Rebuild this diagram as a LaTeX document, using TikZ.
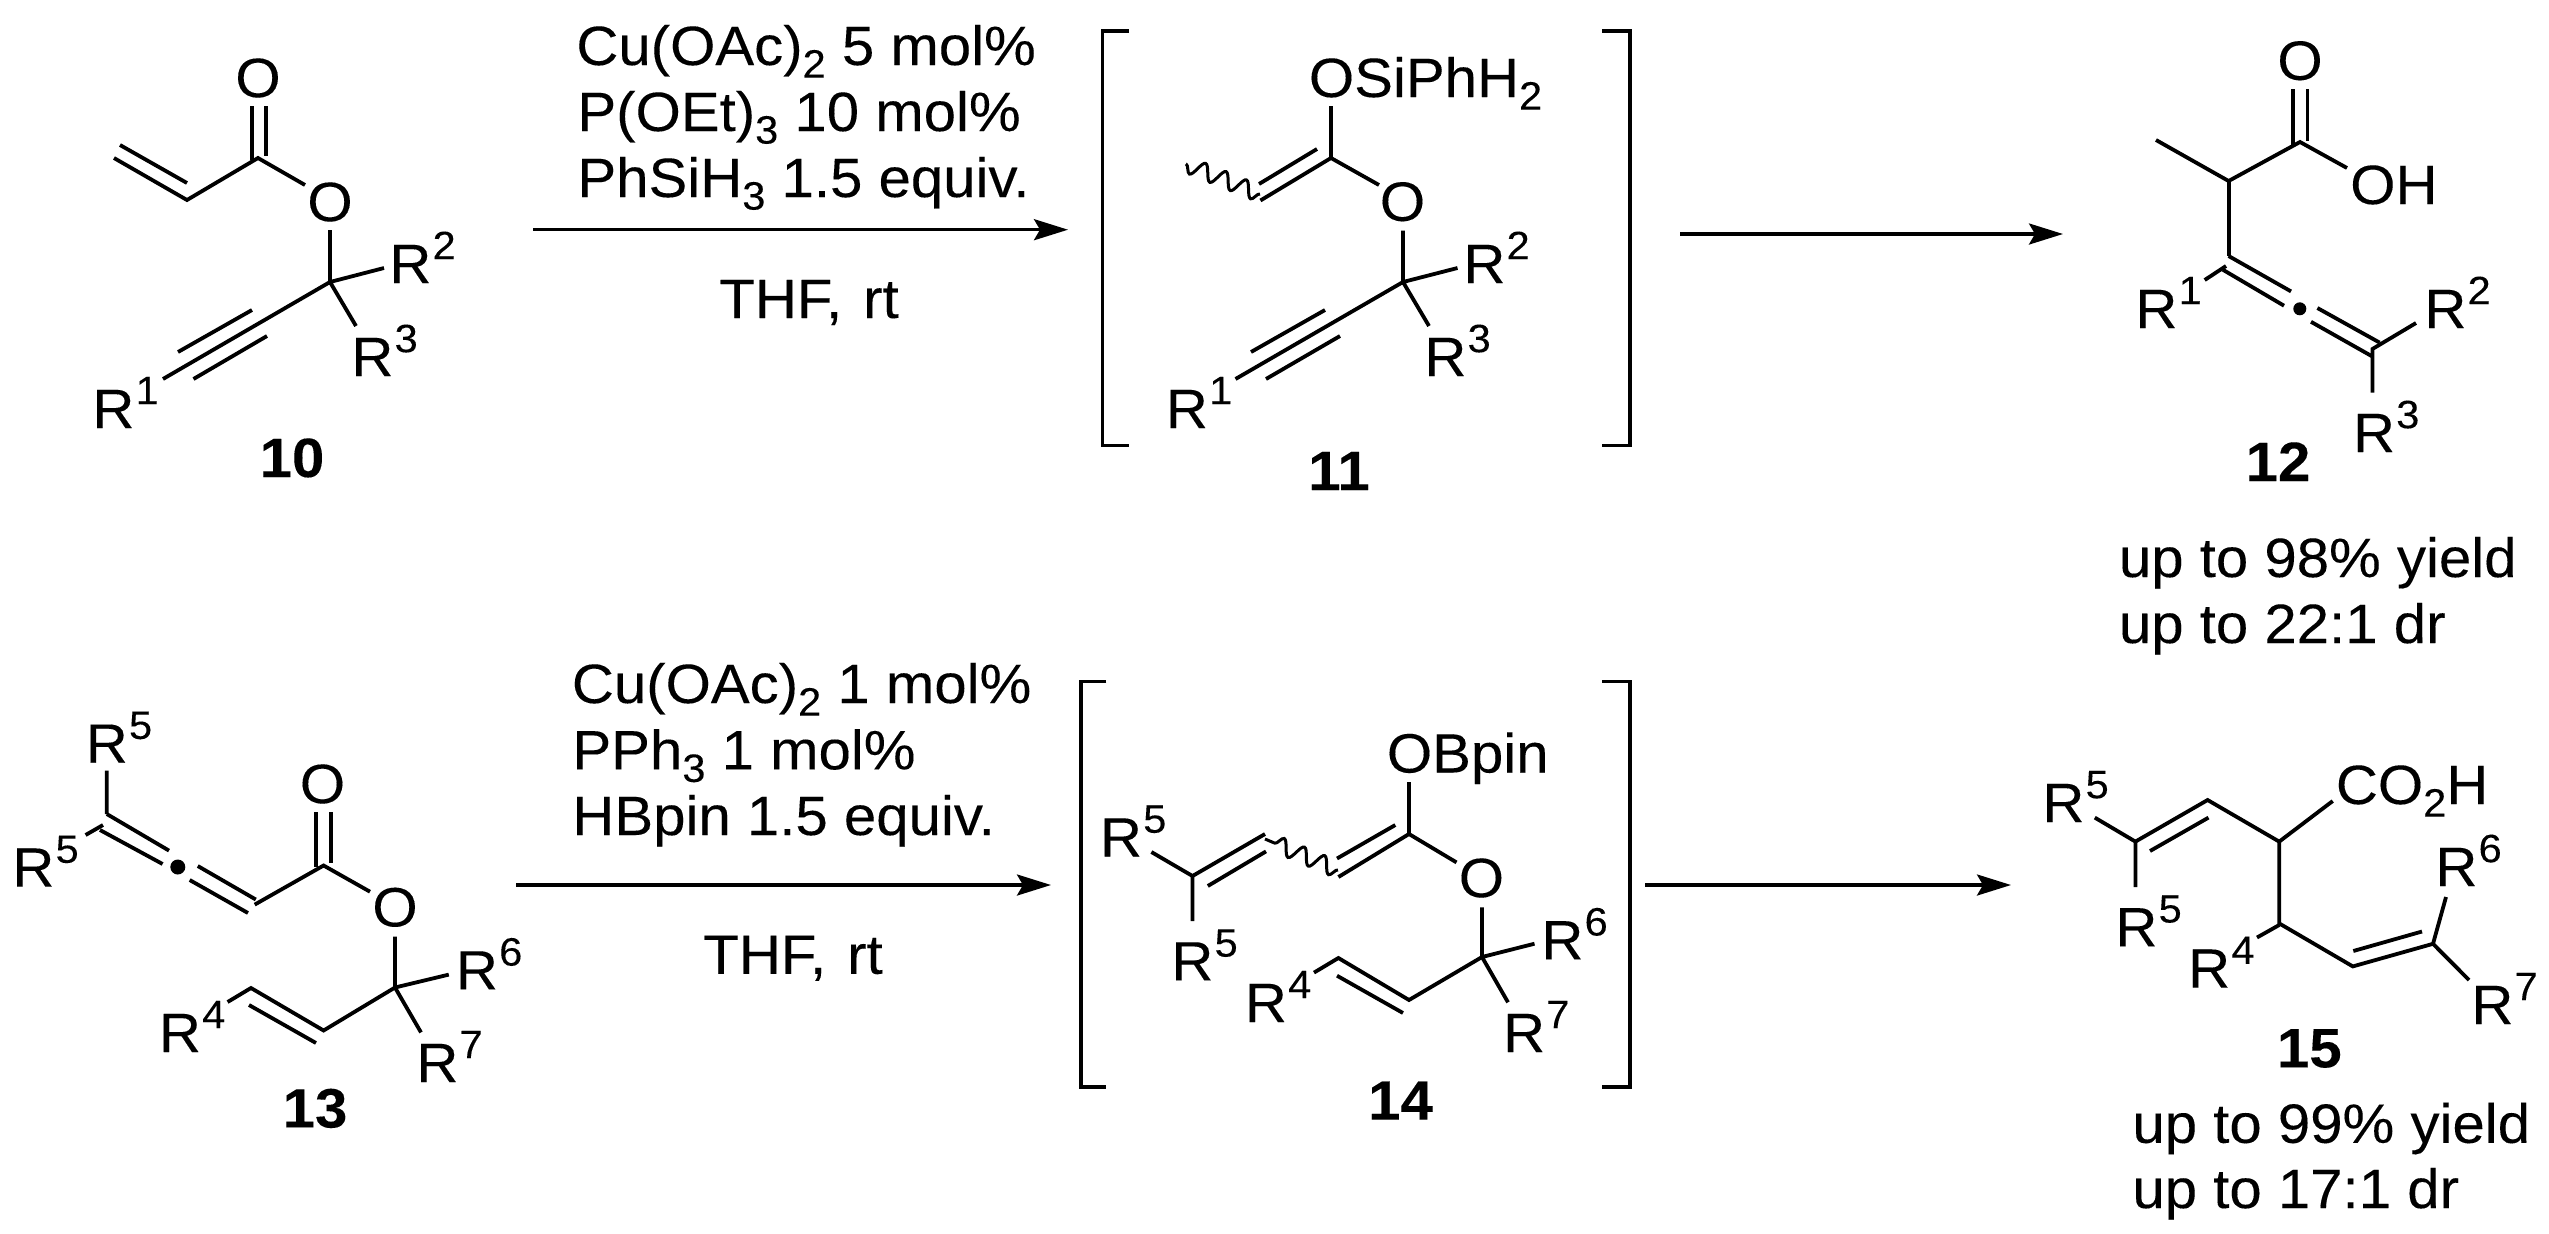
\documentclass[tikz,border=0pt]{standalone}
\usepackage{fontspec}
\setmainfont[FakeStretch=1.05,FakeBold=0.15]{Liberation Sans}
\usetikzlibrary{arrows.meta,decorations.pathmorphing}
\newcommand\SupS[1]{\raisebox{11.9pt}{\hspace{0.6pt}\fontsize{19.8}{20}\selectfont #1}}
\newcommand\SubS[1]{\raisebox{-6.3pt}{\fontsize{19.8}{20}\selectfont #1}}
\tikzset{
  bond/.style={line width=1.9pt},
  wavy/.style={line width=1.5pt,decorate,decoration={snake,segment length=11pt,amplitude=4pt}},
  brack/.style={line width=1.85pt,line join=miter},
  rxn/.style={line width=1.7pt,-{Stealth[length=17pt,width=10.5pt,inset=3pt]}},
  lab/.style={anchor=base west,inner sep=0pt,font=\fontsize{27.7}{30}\selectfont},
  atom/.style={anchor=center,inner sep=0pt,font=\fontsize{27.7}{30}\selectfont},
  num/.style={anchor=base,inner sep=0pt,font=\fontsize{27.7}{30}\selectfont\bfseries},
  dotatom/.style={circle,fill=black,inner sep=0pt,minimum size=6.5pt}
}
\begin{document}
\begin{tikzpicture}[x=0.5pt,y=-0.5pt]
\useasboundingbox (0,0) rectangle (2549,1233);
% ---------- 10
\node[atom] (o10a) at (258,78) {O};
\node[atom] (o10b) at (330,202) {O};
\node[lab] (r10b) at (389,283) {R\SupS{2}};
\node[lab] (r10c) at (351,376) {R\SupS{3}};
\node[lab] (r10a) at (92,428) {R\SupS{1}};
\node[num] (n10) at (292,477) {10};
\draw[bond] (252,106)--(252,160) (265.6,106)--(265.6,156);
\draw[bond] (114,158)--(187,200)--(258,158)--(305,185);
\draw[bond] (120,145)--(187,183);
\draw[bond] (330,230)--(330,282)--(384,268) (330,282)--(356,326) (330,282)--(163,379);
\draw[bond] (178,352)--(252,310) (193.5,379)--(267,336);
% ---------- reagents 1
\node[lab] (ra1) at (576,65) {Cu(OAc)\SubS{2} 5 mol\%};
\node[lab] (ra2) at (577,131) {P(OEt)\SubS{3} 10 mol\%};
\node[lab] (ra3) at (577,197) {PhSiH\SubS{3} 1.5 equiv.};
\node[lab] (ra4) at (719,318) {THF,\hspace{10.5pt}rt};
\coordinate (a1s) at (533,229.7);
\coordinate (a1e) at (1068,229.7);
\draw[rxn] (a1s)--(a1e);
% ---------- 11
\draw[brack] (1129,30.8)--(1102.6,30.8)--(1102.6,445.6)--(1129,445.6);
\draw[brack] (1602.4,30.8)--(1630,30.8)--(1630,445.6)--(1602.4,445.6);
\node[lab] (o11a) at (1308.5,97) {OSiPhH\SubS{2}};
\node[atom] (o11b) at (1402.5,201.7) {O};
\node[lab] (r11b) at (1463,283) {R\SupS{2}};
\node[lab] (r11c) at (1424,376) {R\SupS{3}};
\node[lab] (r11a) at (1165.5,428) {R\SupS{1}};
\node[num] (n11) at (1339,490) {11};
\draw[bond] (1331,106)--(1331,158)--(1260.4,200.5) (1331,158)--(1379,185);
\draw[bond] (1317,149)--(1259,184);
\draw[wavy] (1260,194)--(1186,164);
\draw[bond] (1403,230.5)--(1403,282)--(1457.5,268) (1403,282)--(1429,326) (1403,282)--(1235.5,379);
\draw[bond] (1251,352)--(1325,310) (1266,379)--(1340,336);
\coordinate (a2s) at (1680,234);
\coordinate (a2e) at (2063,234);
\draw[rxn] (a2s)--(a2e);
% ---------- 12
\node[atom] (o12a) at (2300,60.7) {O};
\node[lab] (o12b) at (2349.8,204) {OH};
\node[lab] (r12a) at (2135,328) {R\SupS{1}};
\node[lab] (r12b) at (2424,328) {R\SupS{2}};
\node[lab] (r12c) at (2352.6,452) {R\SupS{3}};
\node[num] (n12) at (2278,481) {12};
\node[lab] (y12a) at (2118.5,577) {up to 98\% yield};
\node[lab] (y12b) at (2118.5,643) {up to 22:1 dr};
\draw[bond] (2292.6,89)--(2292.6,145) (2307.4,89)--(2307.4,141);
\draw[bond] (2156,140)--(2228.6,181)--(2300,142)--(2347,168);
\draw[bond] (2228.6,181)--(2228.6,256);
\draw[bond] (2228.6,256)--(2291,291.4) (2222.8,269.7)--(2284,305.7);
\draw[bond] (2226,266)--(2204.7,280);
\node[dotatom] (d12) at (2299.8,308.8) {};
\draw[bond] (2317.4,308)--(2379.6,342.6) (2311,321.8)--(2372.4,356.5);
\draw[bond] (2416,323)--(2372.4,349)--(2372.4,392.5);
% ---------- 13
\node[lab] (r13a) at (85.4,762.7) {R\SupS{5}};
\node[lab] (r13b) at (12,886.6) {R\SupS{5}};
\node[atom] (o13a) at (322.5,784) {O};
\node[atom] (o13b) at (395,907.3) {O};
\node[lab] (r13c) at (455.6,989.4) {R\SupS{6}};
\node[lab] (r13d) at (416,1082) {R\SupS{7}};
\node[lab] (r13e) at (158.6,1052) {R\SupS{4}};
\node[num] (n13) at (315,1127.4) {13};
\draw[bond] (106.8,770.5)--(106.8,814) (103,825)--(85.6,835);
\draw[bond] (106.8,814)--(169,850.6) (100,830)--(162.6,864);
\node[dotatom,minimum size=7.5pt] (d13) at (177.8,867) {};
\draw[bond] (197.8,866)--(255.8,899.5) (189.7,880)--(248,913);
\draw[bond] (254.7,904.6)--(323.6,865.5)--(370,891.7);
\draw[bond] (316,812)--(316,867) (330.6,812)--(330.6,863);
\draw[bond] (395,936.7)--(395,987.5)--(448.8,974.6) (395,987.5)--(421,1032.4);
\draw[bond] (395,987.5)--(323.6,1030.5)--(251,988)--(227.6,1002);
\draw[bond] (316,1043)--(249,1005);
% ---------- reagents 2
\node[lab] (rb1) at (571.5,703) {Cu(OAc)\SubS{2} 1 mol\%};
\node[lab] (rb2) at (572,769.3) {PPh\SubS{3} 1 mol\%};
\node[lab] (rb3) at (572,835) {HBpin 1.5 equiv.};
\node[lab] (rb4) at (703,973.8) {THF,\hspace{10.5pt}rt};
\coordinate (b1s) at (516,885);
\coordinate (b1e) at (1051,885);
\draw[rxn] (b1s)--(b1e);
% ---------- 14
\draw[brack] (1106.4,681.4)--(1081,681.4)--(1081,1087)--(1106.4,1087);
\draw[brack] (1602,681.4)--(1630,681.4)--(1630,1087)--(1602,1087);
\node[lab] (o14a) at (1386.5,772.5) {OBpin};
\node[atom] (o14b) at (1481.4,878) {O};
\node[lab] (r14a) at (1099.6,856.5) {R\SupS{5}};
\node[lab] (r14b) at (1171,980.4) {R\SupS{5}};
\node[lab] (r14c) at (1244.5,1022) {R\SupS{4}};
\node[lab] (r14d) at (1541,959.3) {R\SupS{6}};
\node[lab] (r14e) at (1502.7,1052) {R\SupS{7}};
\node[num] (n14) at (1400.5,1119.6) {14};
\draw[bond] (1409,782)--(1409,834)--(1338.4,877) (1409,834)--(1456.5,862.4);
\draw[bond] (1395.3,825)--(1337,858.5);
\draw[wavy] (1338,870)--(1265,839);
\draw[bond] (1265,834)--(1192.5,876)--(1151.4,852) (1192.5,876)--(1192.5,921);
\draw[bond] (1266,851.4)--(1207.8,886);
\draw[bond] (1482,907.3)--(1482,957)--(1534.5,943.7) (1482,957)--(1508,1002.3);
\draw[bond] (1482,957)--(1409,1000)--(1338.4,958)--(1314,972.6);
\draw[bond] (1403,1013)--(1337,975.7);
\coordinate (b2s) at (1645.4,885);
\coordinate (b2e) at (2011,885);
\draw[rxn] (b2s)--(b2e);
% ---------- 15
\node[lab] (r15a) at (2042,822) {R\SupS{5}};
\node[lab] (r15b) at (2115,946.3) {R\SupS{5}};
\node[lab] (c15) at (2335.5,804) {CO\SubS{2}H};
\node[lab] (r15c) at (2187.8,987.6) {R\SupS{4}};
\node[lab] (r15d) at (2435,886) {R\SupS{6}};
\node[lab] (r15e) at (2471,1024) {R\SupS{7}};
\node[num] (n15) at (2309.3,1067.3) {15};
\node[lab] (y15a) at (2132,1142.8) {up to 99\% yield};
\node[lab] (y15b) at (2132,1208) {up to 17:1 dr};
\draw[bond] (2094.8,817.6)--(2135.4,841.6)--(2135.4,887);
\draw[bond] (2135.4,841.6)--(2207.6,800)--(2279.2,841.6)--(2332.7,801);
\draw[bond] (2150,851)--(2208.5,817.6);
\draw[bond] (2279.2,841.6)--(2279.2,923.4)--(2352.8,966.4)--(2433,943.8)--(2446,897);
\draw[bond] (2279.2,925)--(2257,937.5);
\draw[bond] (2353.3,951)--(2422,931.5);
\draw[bond] (2433,943.8)--(2469,980);
\end{tikzpicture}
\end{document}
